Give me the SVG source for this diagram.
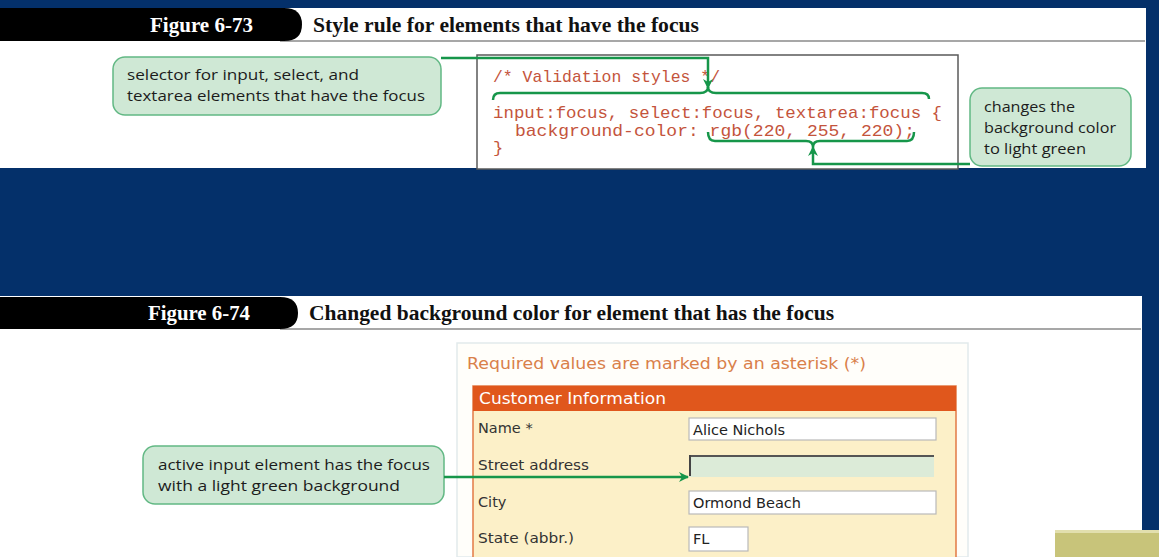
<svg xmlns="http://www.w3.org/2000/svg" width="1159" height="557" viewBox="0 0 1159 557">
<style>
.hdr{font-family:"Liberation Serif",serif;font-weight:bold;font-size:20px}
.tab{fill:#000}
.co{fill:#cfe8d5;stroke:#62b884;stroke-width:1.5}
.ct{font-family:"Open Sans","Liberation Sans",sans-serif;font-size:15px;fill:#1c1c1c}
.code{font-family:"Liberation Mono",monospace;font-size:17px;fill:#c4543c}
.conn{fill:none;stroke:#16964a;stroke-width:2.5}
.frm{font-family:"DejaVu Sans",sans-serif;font-size:14.5px;fill:#333}
.inp{fill:#fff;stroke:#b9b9b9;stroke-width:1.2}
</style>
<defs>
<marker id="ah" viewBox="0 0 10 10" refX="9" refY="5" markerWidth="12" markerHeight="10" orient="auto" markerUnits="userSpaceOnUse">
<path d="M0,0 L10,5 L0,10 L3,5 Z" fill="#16964a"/>
</marker>
</defs>
<rect x="0" y="0" width="1159" height="557" fill="#04306a"/>

<!-- Figure 6-73 panel -->
<g id="fig73">
<rect x="0" y="8" width="1146" height="160" fill="#fff"/>
<line x1="280" y1="41" x2="1145" y2="41" stroke="#8a8a8a" stroke-width="1.5"/>
<path class="tab" d="M0 8 H284 Q302 8 302 24.5 Q302 41 284 41 H0 Z"/>
<text class="hdr" x="150" y="32" fill="#fff" textLength="103" lengthAdjust="spacingAndGlyphs">Figure 6-73</text>
<text class="hdr" x="313" y="32" fill="#111" textLength="386" lengthAdjust="spacingAndGlyphs">Style rule for elements that have the focus</text>
</g>

<g id="codebox">
<rect x="477" y="55" width="481" height="114" fill="#fff" stroke="#5a5a5a" stroke-width="1.5"/>
<text class="code" x="493" y="82" textLength="227" lengthAdjust="spacingAndGlyphs">/* Validation styles */</text>
<text class="code" x="493" y="118" textLength="449" lengthAdjust="spacingAndGlyphs">input:focus, select:focus, textarea:focus {</text>
<text class="code" x="515" y="136" textLength="400" lengthAdjust="spacingAndGlyphs">background-color: rgb(220, 255, 220);</text>
<text class="code" x="493" y="153">}</text>
</g>

<g id="callout-selector">
<rect class="co" x="113" y="57" width="328" height="58" rx="12"/>
<text class="ct" x="127" y="80" textLength="232" lengthAdjust="spacingAndGlyphs">selector for input, select, and</text>
<text class="ct" x="127" y="101" textLength="298" lengthAdjust="spacingAndGlyphs">textarea elements that have the focus</text>
</g>

<g id="callout-bg">
<rect class="co" x="970" y="88" width="161" height="78" rx="12"/>
<text class="ct" x="984" y="112" textLength="91" lengthAdjust="spacingAndGlyphs">changes the</text>
<text class="ct" x="984" y="133" textLength="132" lengthAdjust="spacingAndGlyphs">background color</text>
<text class="ct" x="984" y="154" textLength="102" lengthAdjust="spacingAndGlyphs">to light green</text>
</g>

<!-- Figure 6-74 panel -->
<g id="fig74">
<rect x="0" y="296" width="1142" height="261" fill="#fff"/>
<line x1="280" y1="329" x2="1141" y2="329" stroke="#8a8a8a" stroke-width="1.5"/>
<path class="tab" d="M0 297 H280 Q298 297 298 313 Q298 329 280 329 H0 Z"/>
<text class="hdr" x="148" y="320" fill="#fff" textLength="102" lengthAdjust="spacingAndGlyphs">Figure 6-74</text>
<text class="hdr" x="309" y="320" fill="#111" textLength="525" lengthAdjust="spacingAndGlyphs">Changed background color for element that has the focus</text>
<rect x="1055" y="530" width="104" height="27" fill="#c8c47a"/>
<rect x="1055" y="530" width="104" height="3" fill="#e2dfae"/>
</g>

<g id="form">
<rect x="457" y="343" width="511" height="214" fill="#fffefa" stroke="#e2eaec" stroke-width="1.5"/>
<text class="frm" x="467" y="369" style="fill:#d9804a;font-size:15px" textLength="399" lengthAdjust="spacingAndGlyphs">Required values are marked by an asterisk (*)</text>
<rect x="473" y="386" width="483" height="172" fill="#fcf0c8" stroke="#e27a45" stroke-width="1.5"/>
<rect x="473" y="386" width="483" height="25" fill="#e0571c"/>
<text class="frm" x="479" y="404" style="fill:#fff;font-size:16px" textLength="187" lengthAdjust="spacingAndGlyphs">Customer Information</text>
<text class="frm" x="478" y="433">Name *</text>
<rect class="inp" x="689" y="418" width="247" height="22"/>
<text class="frm" x="693" y="435" style="fill:#222">Alice Nichols</text>
<text class="frm" x="478" y="470" textLength="111" lengthAdjust="spacingAndGlyphs">Street address</text>
<rect x="689" y="455" width="245" height="22" fill="#dcebd8"/>
<line x1="689" y1="456" x2="934" y2="456" stroke="#555" stroke-width="2"/>
<line x1="690" y1="455" x2="690" y2="476" stroke="#444" stroke-width="2"/>
<text class="frm" x="478" y="507">City</text>
<rect class="inp" x="689" y="491" width="247" height="23"/>
<text class="frm" x="693" y="508" style="fill:#222">Ormond Beach</text>
<text class="frm" x="478" y="543" textLength="96" lengthAdjust="spacingAndGlyphs">State (abbr.)</text>
<rect class="inp" x="689" y="527" width="59" height="24"/>
<text class="frm" x="693" y="544" style="fill:#222">FL</text>
</g>

<g id="callout-active">
<rect class="co" x="143" y="446" width="301" height="58" rx="12"/>
<text class="ct" x="158" y="470" textLength="272" lengthAdjust="spacingAndGlyphs">active input element has the focus</text>
<text class="ct" x="158" y="491" textLength="242" lengthAdjust="spacingAndGlyphs">with a light green background</text>
</g>

<g id="connectors">
<path class="conn" d="M493 100 Q493 93 500 93 H700 Q708 93 708 87 Q708 93 716 93 H922 Q929 93 929 99"/>
<polyline class="conn" points="441,58 708,58 708,88" marker-end="url(#ah)"/>
<path class="conn" d="M708 132 Q708 141 715 141 H806 Q813 141 813 147 Q813 141 820 141 H907 Q914 141 914 132"/>
<polyline class="conn" points="970,164 813,164 813,147" marker-end="url(#ah)"/>
<line class="conn" x1="444" y1="477" x2="688" y2="477" marker-end="url(#ah)"/>
</g>
</svg>
